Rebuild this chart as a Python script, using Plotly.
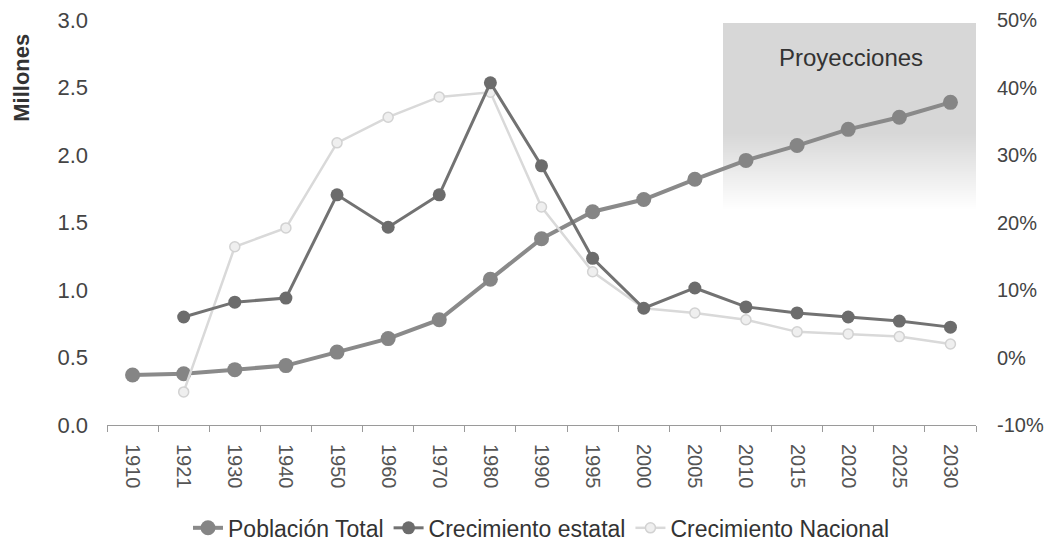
import plotly.graph_objects as go

# Census / projection years
years = ["1910", "1921", "1930", "1940", "1950", "1960", "1970", "1980", "1990",
         "1995", "2000", "2005", "2010", "2015", "2020", "2025", "2030"]

# Total population (millions)
poblacion_total = [0.37, 0.38, 0.41, 0.44, 0.54, 0.64, 0.78, 1.08, 1.38,
                   1.58, 1.67, 1.82, 1.96, 2.07, 2.19, 2.28, 2.39]

# Growth rates (fraction) – state and national
crec_estatal = [None, 0.060, 0.082, 0.088, 0.241, 0.193, 0.241, 0.407, 0.284,
                0.147, 0.073, 0.103, 0.075, 0.066, 0.060, 0.054, 0.045]
crec_nacional = [None, -0.051, 0.164, 0.192, 0.318, 0.356, 0.386, 0.393, 0.223,
                 0.127, 0.073, 0.066, 0.056, 0.038, 0.035, 0.031, 0.020]

left_ticks = [0, 0.5, 1.0, 1.5, 2.0, 2.5, 3.0]
right_ticks = [-0.1, 0, 0.1, 0.2, 0.3, 0.4, 0.5]
right_labels = [f"{round(v * 100)}%" for v in right_ticks]  # plain hyphen for negatives

FONT = "Liberation Sans, Arial, sans-serif"

fig = go.Figure()

fig.add_trace(go.Scatter(
    x=years, y=crec_nacional, name="Crecimiento Nacional", yaxis="y2",
    mode="lines+markers", legendrank=3,
    line=dict(color="#d9d9d9", width=2.5),
    marker=dict(size=10, color="#efefef", line=dict(color="#d2d2d2", width=1.5)),
))
fig.add_trace(go.Scatter(
    x=years, y=crec_estatal, name="Crecimiento estatal", yaxis="y2",
    mode="lines+markers", legendrank=2,
    line=dict(color="#727272", width=3),
    marker=dict(size=13, color="#6c6c6c"),
))
fig.add_trace(go.Scatter(
    x=years, y=poblacion_total, name="Población Total",
    mode="lines+markers", legendrank=1,
    line=dict(color="#8a8a8a", width=4),
    marker=dict(size=15, color="#858585"),
))

# Shaded "Proyecciones" panel: stacked translucent layers give a soft fade at the bottom
shapes = []
top, solid_bottom, fade_bottom = 2.98, 2.15, 1.60
layers = 40
alpha = 1 - (1 - 0.14) ** (1 / layers)
for i in range(layers):
    y0 = solid_bottom - (solid_bottom - fade_bottom) * i / (layers - 1)
    shapes.append(dict(type="rect", xref="x", yref="y", x0=11.55, x1=16.55,
                       y0=y0, y1=top, fillcolor=f"rgba(0,0,0,{alpha:.5f})",
                       line=dict(width=0), layer="below"))

fig.update_layout(
    width=1057, height=548,
    margin=dict(l=107, r=81, t=20, b=123, autoexpand=False),
    paper_bgcolor="white", plot_bgcolor="white",
    font=dict(family=FONT, color="#444444"),
    shapes=shapes,
    showlegend=True,
    legend=dict(orientation="h", x=0.5, xanchor="center", y=-0.254, yanchor="middle",
                font=dict(size=23, color="#333333"), itemwidth=30,
                tracegroupgap=0, bgcolor="rgba(0,0,0,0)"),
    xaxis=dict(
        type="category", tickangle=90, tickson="boundaries",
        ticks="outside", ticklen=6, tickcolor="#9a9a9a",
        showline=True, linecolor="#9a9a9a", linewidth=1,
        showgrid=False, zeroline=False, automargin=False,
        tickfont=dict(size=20, color="#555555"), ticklabelstandoff=14,
        range=[-0.5, 16.5],
    ),
    yaxis=dict(
        range=[0, 3.0], tickvals=left_ticks, tickformat=".1f",
        showgrid=False, zeroline=False, showline=False, ticks="", automargin=False,
        tickfont=dict(size=22, color="#444444"), ticklabelstandoff=18,
    ),
    yaxis2=dict(
        overlaying="y", side="right", range=[-0.1, 0.5],
        tickvals=right_ticks, ticktext=right_labels, automargin=False,
        showgrid=False, zeroline=False, showline=False, ticks="",
        tickfont=dict(size=20, color="#444444"), ticklabelstandoff=20,
    ),
    annotations=[
        dict(text="<b>Millones</b>", xref="paper", yref="paper", x=-0.098, y=0.857,
             xanchor="center", yanchor="middle",
             textangle=-90, showarrow=False, font=dict(size=22, color="#333333")),
        dict(text="Proyecciones", xref="x", yref="y", x=14.05, y=2.72,
             showarrow=False, font=dict(size=24, color="#333333")),
    ],
)

fig.write_html("out.html")
